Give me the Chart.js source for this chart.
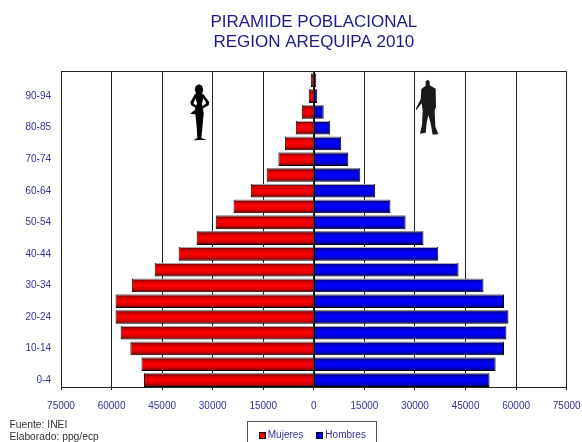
<!DOCTYPE html>
<html><head><meta charset="utf-8">
<style>html,body{margin:0;padding:0;background:#fff;overflow:hidden}canvas{display:block}</style>
<script src="https://cdn.jsdelivr.net/npm/chart.js@4"></script>
</head><body><canvas id="c" width="582" height="442"></canvas>
<script>
const ageGroups=["0-4","5-9","10-14","15-19","20-24","25-29","30-34","35-39","40-44","45-49","50-54","55-59","60-64","65-69","70-74","75-79","80-85","85-89","90-94","95+"];
const mujeres=[50400,51100,54400,57300,58800,58800,54000,47200,40100,34760,29100,23800,18700,14000,10500,8600,5350,3560,1500,900];
const hombres=[52100,53900,56400,57100,57700,56400,50300,42900,36900,32500,27200,22700,18200,13760,10200,8100,4850,2900,1000,700];
const titleLines=["PIRAMIDE POBLACIONAL","REGION AREQUIPA 2010"];
const footLines=["Fuente: INEI","Elaborado: ppg/ecp"];
const NAVY="#333399";
const FONT="'Liberation Sans', Arial, sans-serif";

function swatch(col){
  const c=document.createElement('canvas');c.width=7;c.height=7;
  const x=c.getContext('2d');x.fillStyle='#000';x.fillRect(0,0,7,7);x.fillStyle=col;x.fillRect(1,1,5,5);
  return c;
}
function barFill(dark,mid,bright){
  return function(ctx){
    const ch=ctx.chart,y=ch.scales.y;
    if(!y||ctx.dataIndex===undefined||!ch.chartArea) return bright;
    const p=y.getPixelForValue(ctx.dataIndex),h=7;
    const g=ch.ctx.createLinearGradient(0,p-h,0,p+h);
    g.addColorStop(0,dark);g.addColorStop(.28,mid);g.addColorStop(.5,bright);g.addColorStop(.72,mid);g.addColorStop(1,dark);
    return g;
  };
}
function poly(ctx,pts,ox,oy){
  ctx.beginPath();
  pts.forEach((p,i)=>{const x=ox+p[0]/3,y=oy+p[1]/3;i?ctx.lineTo(x,y):ctx.moveTo(x,y);});
  ctx.closePath();ctx.fill();
}
const womanBody=[[597,73],[606,77],[610,90],[606,101],[613,105],[606,130],[611,160],[607,205],[604,234],[620,239],[580,241],[592,234],[590,200],[586,163],[570,161],[584,150],[591,130],[583,105],[588,100],[584,88],[588,77]];
const womanArmL=[[584,104],[571,127],[574,136],[592,147],[594,141],[580,130],[589,110]];
const womanArmR=[[611,104],[628,127],[626,136],[606,147],[604,141],[619,130],[608,110]];
const manBody=[[383,59],[389,64],[389,76],[407,86],[408,140],[404,152],[406,200],[415,222],[398,224],[392,190],[385,165],[380,190],[377,218],[360,221],[366,195],[368,152],[365,130],[349,150],[347,147],[362,118],[364,87],[377,77],[377,64]];

const decor={
  id:'decor',
  afterLayout(ch){
    const y=ch.scales.y;
    y._startPixel+=1;y._endPixel+=1;
  },
  beforeDatasetsDraw(ch){
    const c=ch.ctx,a=ch.chartArea;
    c.save();c.strokeStyle='#222';c.lineWidth=1;
    c.beginPath();c.moveTo(a.left,Math.floor(a.top)+.5);c.lineTo(a.right,Math.floor(a.top)+.5);c.stroke();c.restore();
    c.save();c.shadowColor='#aaaaaa';c.shadowOffsetX=0;c.shadowOffsetY=-1;c.shadowBlur=0;
  },
  afterDatasetsDraw(ch){
    const c=ch.ctx,a=ch.chartArea;
    c.restore();
    const x0=Math.round(ch.scales.x.getPixelForValue(0))+.5;
    c.save();c.strokeStyle='#000';c.lineWidth=1;
    c.beginPath();c.moveTo(x0,a.top);c.lineTo(x0,a.bottom);c.stroke();c.restore();
    c.save();
    c.fillStyle='#000';
    poly(c,womanBody,0,60);poly(c,womanArmL,0,60);poly(c,womanArmR,0,60);
    c.fillStyle='#1a1a1a';
    poly(c,manBody,300,60);
    c.restore();
  },
  beforeDraw(ch){
    const c=ch.ctx;
    c.save();c.fillStyle='#fff';c.fillRect(0,0,582,442);
    c.strokeStyle='#555';c.lineWidth=1;
    c.strokeRect(247.5,421.5,129,30);
    c.fillStyle='#333';c.font='10.3px '+FONT;c.textBaseline='middle';c.textAlign='left';
    footLines.forEach((t,i)=>c.fillText(t,9.5,425+i*12));
    c.restore();
  }
};

new Chart(document.getElementById('c'),{
  type:'bar',
  data:{labels:ageGroups,datasets:[
    {label:'Mujeres',data:mujeres.map(v=>-v),backgroundColor:barFill('#5a0000','#e00000','#ff0000'),borderColor:'#000',borderWidth:1,legendColor:'#ff0000'},
    {label:'Hombres',data:hombres,backgroundColor:barFill('#00005a','#0000e0','#0000ff'),borderColor:'#000',borderWidth:1,legendColor:'#0000ff'}
  ]},
  options:{
    indexAxis:'y',responsive:false,animation:false,devicePixelRatio:1,
    layout:{padding:{left:0,right:15.3,top:0,bottom:-8.5}},
    datasets:{bar:{barPercentage:.86,categoryPercentage:1}},
    scales:{
      x:{type:'linear',stacked:true,min:-75000,max:75000,
        afterFit(s){s.height=27.5;s.paddingLeft=0;s.paddingRight=0;},
        border:{display:true,color:'#222',width:1},
        grid:{color:'#222',lineWidth:1,tickColor:'#222',tickLength:3,drawOnChartArea:true},
        afterBuildTicks(s){const t=[];for(const v of [-75000,-60000,-45000,-30000,-15000,0,15000,30000,45000,60000,75000])t.push({value:v});s.ticks=t;},
        ticks:{maxRotation:0,autoSkip:false,padding:10.5,color:NAVY,font:{family:FONT,size:10},callback:v=>String(Math.abs(v))}
      },
      y:{type:'category',stacked:true,reverse:true,
        afterFit(s){s.width=61;s.paddingTop=0;s.paddingBottom=0;},
        border:{display:true,color:'#222',width:1},
        grid:{display:false,drawTicks:false},
        ticks:{autoSkip:false,padding:10,color:NAVY,font:{family:FONT,size:10},callback(v,i){return i%2===0?this.getLabelForValue(v):'';}}
      }
    },
    plugins:{
      tooltip:{enabled:false},
      title:{display:true,fullSize:false,text:titleLines,color:'#1a1a8c',font:{family:FONT,size:17,weight:'normal',lineHeight:1.176},padding:{top:12,bottom:19.5}},
      legend:{display:true,position:'bottom',fullSize:false,
        labels:{usePointStyle:true,pointStyleWidth:1,padding:16,color:NAVY,font:{family:FONT,size:10},
          generateLabels(ch){return ch.data.datasets.map((d,i)=>({text:d.label,fontColor:NAVY,datasetIndex:i,pointStyle:swatch(d.legendColor),hidden:false,lineWidth:0}));}
        }
      }
    }
  },
  plugins:[decor]
});
</script></body></html>
